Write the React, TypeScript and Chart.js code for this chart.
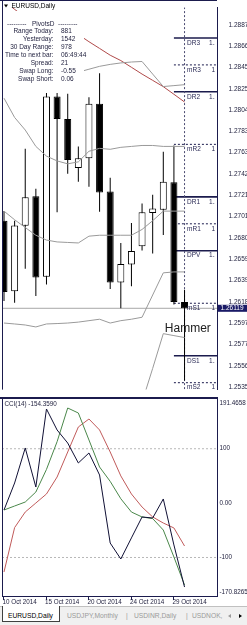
import React, { useEffect, useRef } from 'react';
import { Chart, registerables } from 'chart.js';

Chart.register(...registerables);

const FONT = '"Liberation Sans", Arial, sans-serif';
const NAVY = '#1b1b4d';
const TEXT = '#1e1e3c';

// ---- data ----
const dates = ['10 Oct 2014', '12 Oct 2014', '13 Oct 2014', '14 Oct 2014', '15 Oct 2014', '16 Oct 2014', '17 Oct 2014', '19 Oct 2014', '20 Oct 2014', '21 Oct 2014', '22 Oct 2014', '23 Oct 2014', '24 Oct 2014', '26 Oct 2014', '27 Oct 2014', '28 Oct 2014', '29 Oct 2014', '30 Oct 2014'];
const opens = [1.26969, 1.26285, 1.26919, 1.27206, 1.26426, 1.28174, 1.27955, 1.27481, 1.27575, 1.28105, 1.27253, 1.26369, 1.26544, 1.26722, 1.27044, 1.27075, 1.27341, 1.26180];
const highs = [1.27062, 1.26969, 1.27668, 1.27278, 1.28260, 1.28300, 1.28200, 1.27690, 1.28168, 1.28399, 1.27387, 1.26753, 1.26947, 1.27137, 1.27222, 1.27637, 1.27698, 1.26300];
const lows = [1.26191, 1.26173, 1.26503, 1.26238, 1.26351, 1.27050, 1.27425, 1.27346, 1.27299, 1.27056, 1.26307, 1.26119, 1.26332, 1.26681, 1.26650, 1.26831, 1.26156, 1.25419];
const closes = [1.26276, 1.26922, 1.27196, 1.26419, 1.28174, 1.27955, 1.27559, 1.27575, 1.28105, 1.27243, 1.26369, 1.26550, 1.26676, 1.27050, 1.27088, 1.27346, 1.26180, 1.26119];

const bandTop = [null, null, null, null, null, null, 1.28392, 1.28411, 1.28439, 1.28467, 1.28486, 1.28500, 1.28509, 1.28514, 1.28392, 1.28271, 1.28280, 1.28289];
const slowMa = [1.29104, 1.29020, 1.28945, 1.28898, 1.28861, 1.28828, 1.28800, 1.28776, 1.28706, 1.28641, 1.28575, 1.28523, 1.28458, 1.28392, 1.28331, 1.28270, 1.28196, 1.28121];
const bandUpper = [1.28158, 1.27971, 1.27849, 1.27690, 1.27596, 1.27549, 1.27521, 1.27540, 1.27643, 1.27671, 1.27662, 1.27681, 1.27690, 1.27699, 1.27699, 1.27690, 1.27690, 1.27690];
const bandMiddle = [1.27062, 1.26978, 1.26903, 1.26828, 1.26781, 1.26763, 1.26758, 1.26753, 1.26819, 1.26828, 1.26828, 1.26828, 1.26828, 1.26884, 1.26969, 1.27062, 1.27062, 1.27062];
const bandLower = [1.25976, 1.25967, 1.25957, 1.25938, 1.25967, 1.25971, 1.25976, 1.25985, 1.25999, 1.26013, 1.25976, 1.25999, 1.26013, 1.26032, 1.26248, 1.26463, 1.26472, 1.26472];
const bandBottom = [null, null, null, null, null, null, null, null, null, null, null, null, null, 1.25208, 1.25536, 1.25873, 1.25854, 1.25835];

const priceTicks = [1.28870, 1.28665, 1.28455, 1.28250, 1.28045, 1.27835, 1.27630, 1.27420, 1.27215, 1.27010, 1.26800, 1.26595, 1.26390, 1.26180, 1.25975, 1.25770, 1.25560, 1.25355];
const bidPrice = 1.26119;

const pivotNames = ['DR3', 'mR3', 'DR2', 'mR2', 'DR1', 'mR1', 'DPV', 'mS1', 'DS1', 'mS2'];
const pivotLevels = [1.28742, 1.28481, 1.28220, 1.27710, 1.27200, 1.26939, 1.26678, 1.26168, 1.25658, 1.25397];
const pivotDashed = [false, true, false, true, false, true, false, true, false, true];
const pivotFromBar = 16;

const infoLabels = ['Range Today:', 'Yesterday:', '30 Day Range:', 'Time to next bar:', 'Spread:', 'Swap Long:', 'Swap Short:'];
const infoValues = ['881', '1542', '978', '06:49:44', '21', '-0.55', '0.06'];

const patternText = 'Hammer';
const patternBar = 15;
const patternPrice = 1.2592;

const cciMain = [-12.7, 37.0, 101.4, 29.6, 173.1, 134.5, 110.5, 73.8, 92.2, 51.7, -73.4, -102.8, -64.0, -25.5, -27.4, 7.6, -77.0, -154.359];
const cciFast = [-12.7, -5.3, 2.0, 20.4, 62.0, 113.0, 174.9, 165.7, 116.1, 66.4, 40.0, 8.0, -16.4, -25.5, -28.5, -49.5, -99.1, -150.6];
const cciSlow = [-126.7, -45.0, -16.4, 0.2, 16.8, 48.0, 94.0, 140.0, 154.7, 134.5, 94.0, 50.0, 16.8, -7.2, -25.5, -36.6, -45.7, -78.9];
const cciLevels = [100, -100];
const cciTicks = [191.4658, 100, 0, -100, -170.8265];
const cciTickLabels = ['191.4658', '100', '0.00', '-100', '-170.8265'];
const cciTitle = 'CCI(14) -154.3590';

const dateTicks = [0, 4, 8, 12, 16];
const tabs = ['EURUSD,Daily', 'USDJPY,Monthly', 'USDINR,Daily', 'USDNOK,'];

const X_MIN = -0.188;
const X_MAX = 20.057;

const pts = (arr: (number | null)[]) => arr.map((v, i) => ({ x: i, y: v }));

const mainPlugin = {
  id: 'mainText',
  afterDatasetsDraw(chart: any) {
    const { ctx, chartArea: a } = chart;
    // opaque info panel that hides the chart behind it
    ctx.save();
    ctx.fillStyle = '#ffffff';
    ctx.fillRect(a.left, 11, 82, 82);
    ctx.restore();
  },
  afterDraw(chart: any) {
    const { ctx, chartArea: a, scales } = chart;
    const xs = scales.x;
    const ys = scales.y;
    ctx.save();
    ctx.strokeStyle = NAVY;
    ctx.lineWidth = 1;
    ctx.beginPath();
    ctx.moveTo(0, 0.5);
    ctx.lineTo(a.right, 0.5);
    ctx.moveTo(a.left + 0.5, 0);
    ctx.lineTo(a.left + 0.5, a.bottom);
    ctx.stroke();

    ctx.fillStyle = '#000';
    ctx.beginPath();
    ctx.moveTo(4, 4.5);
    ctx.lineTo(8, 4.5);
    ctx.lineTo(6, 7.5);
    ctx.closePath();
    ctx.fill();
    ctx.font = `6.5px ${FONT}`;
    ctx.textBaseline = 'middle';
    ctx.textAlign = 'left';
    ctx.fillText('EURUSD,Daily', 11.5, 6.3);

    ctx.fillStyle = TEXT;
    ctx.fillText('---------', 7, 24);
    ctx.fillText('PivotsD', 32, 24);
    ctx.fillText('---------', 58, 24);
    infoLabels.forEach((l, k) => {
      const yy = 31.3 + 8 * k;
      ctx.textAlign = 'right';
      ctx.fillText(l, 53.5, yy);
      ctx.textAlign = 'left';
      ctx.fillText(infoValues[k], 61, yy);
    });

    ctx.save();
    ctx.beginPath();
    ctx.rect(a.left, a.top, a.right - a.left - 2, a.bottom - a.top);
    ctx.clip();
    ctx.fillStyle = '#2a2a55';
    ctx.textAlign = 'left';
    const lx = xs.getPixelForValue(dates.length - 1) + 2.5;
    pivotNames.forEach((n, k) => {
      const yy = ys.getPixelForValue(pivotLevels[k]) + 5;
      ctx.fillText(n, lx, yy);
      ctx.fillText(pivotLevels[k].toFixed(5), lx + (n[0] === 'm' ? 24.5 : 22), yy);
    });
    ctx.fillStyle = '#202020';
    ctx.font = `12px ${FONT}`;
    ctx.fillText(patternText, xs.getPixelForValue(patternBar) + 1.5, ys.getPixelForValue(patternPrice));
    ctx.restore();

    const by = ys.getPixelForValue(bidPrice);
    ctx.fillStyle = '#1a1a66';
    ctx.fillRect(a.right + 1, by - 3.5, chart.width - a.right - 1, 7);
    ctx.fillStyle = '#fff';
    ctx.font = `6.5px ${FONT}`;
    ctx.textAlign = 'left';
    ctx.fillText(bidPrice.toFixed(5), a.right + 3.5, by);
    ctx.restore();
  },
};

const cciPlugin = {
  id: 'cciText',
  afterDraw(chart: any) {
    const { ctx, chartArea: a, scales } = chart;
    const ys = scales.y;
    ctx.save();
    ctx.strokeStyle = NAVY;
    ctx.lineWidth = 1;
    ctx.beginPath();
    ctx.moveTo(a.left + 0.5, 0);
    ctx.lineTo(a.left + 0.5, a.bottom);
    ctx.stroke();
    ctx.font = `6.3px ${FONT}`;
    ctx.textBaseline = 'middle';
    ctx.textAlign = 'left';
    ctx.fillStyle = TEXT;
    ctx.fillText(cciTitle, 4.5, 5.5);
    cciTicks.forEach((v, k) => {
      let yy = ys.getPixelForValue(v);
      yy = Math.min(Math.max(yy, a.top + 4), a.bottom - 4);
      ctx.fillText(cciTickLabels[k], a.right + 2.5, yy);
    });
    ctx.restore();
  },
};

export default function App() {
  const mainRef = useRef<HTMLCanvasElement>(null);
  const cciRef = useRef<HTMLCanvasElement>(null);

  useEffect(() => {
    const idx = dates.map((_, i) => i);
    const bodies = idx.map((i) => ({ x: i, y: [opens[i], closes[i]] }));
    const wicks = idx.map((i) => ({ x: i, y: [lows[i], highs[i]] }));
    const bodyColors = idx.map((i) => (closes[i] >= opens[i] ? '#ffffff' : '#000000'));

    const lineDs = (data: any[], color: string, order: number, extra: any = {}) => ({
      type: 'line',
      data,
      borderColor: color,
      borderWidth: 1,
      pointRadius: 0,
      tension: 0,
      order,
      ...extra,
    });

    const mainDatasets: any[] = [];
    pivotLevels.forEach((lvl, k) => {
      mainDatasets.push(
        lineDs([{ x: pivotFromBar, y: lvl }, { x: X_MAX, y: lvl }], NAVY, 9, {
          borderWidth: pivotDashed[k] ? 1 : 1.6,
          borderDash: pivotDashed[k] ? [2, 2] : [],
        })
      );
    });
    mainDatasets.push(
      lineDs([{ x: dates.length - 1, y: 2 }, { x: dates.length - 1, y: 0 }], '#4a4a70', 8, { borderDash: [2, 2] })
    );
    mainDatasets.push(lineDs([{ x: X_MIN, y: bidPrice }, { x: X_MAX, y: bidPrice }], '#a8a8a8', 7));
    mainDatasets.push({
      type: 'bar',
      data: wicks,
      backgroundColor: '#000',
      barThickness: 1,
      grouped: false,
      order: 4,
      inflateAmount: 0,
    });
    mainDatasets.push({
      type: 'bar',
      data: bodies,
      backgroundColor: bodyColors,
      borderColor: '#000',
      borderWidth: 1,
      borderSkipped: false,
      barThickness: 7,
      grouped: false,
      order: 3,
      inflateAmount: 0,
    });
    mainDatasets.push(lineDs(pts(bandTop), '#9a9a9a', 1));
    mainDatasets.push(lineDs(pts(slowMa), '#b04a4a', 1));
    mainDatasets.push(lineDs(pts(bandUpper), '#9a9a9a', 1));
    mainDatasets.push(lineDs(pts(bandMiddle), '#9a9a9a', 1));
    mainDatasets.push(lineDs(pts(bandLower), '#9a9a9a', 1));
    mainDatasets.push(lineDs(pts(bandBottom), '#9a9a9a', 1));

    const main = new Chart(mainRef.current!, {
      type: 'line',
      data: { datasets: mainDatasets },
      options: {
        animation: false,
        responsive: false,
        events: [],
        layout: { padding: { left: 2, top: 1, right: 0, bottom: 0 } },
        plugins: { legend: { display: false }, tooltip: { enabled: false } },
        scales: {
          x: {
            type: 'linear',
            display: false,
            offset: false,
            bounds: 'data',
            grid: { offset: false },
            min: X_MIN,
            max: X_MAX,
          },
          y: {
            type: 'linear',
            position: 'right',
            min: 1.2533,
            max: 1.29039,
            afterFit: (s: any) => {
              s.width = 30;
            },
            afterBuildTicks: (s: any) => {
              s.ticks = priceTicks.map((v) => ({ value: v }));
            },
            ticks: {
              autoSkip: false,
              padding: 3.5,
              color: TEXT,
              font: { family: FONT, size: 6.5 },
              callback: (v: any) => Number(v).toFixed(5),
            },
            grid: { display: false },
            border: { display: true, color: NAVY, width: 1 },
          },
        },
      } as any,
      plugins: [mainPlugin],
    } as any);

    const cciDatasets: any[] = [];
    cciLevels.forEach((lv) => {
      cciDatasets.push(lineDs([{ x: X_MIN, y: lv }, { x: X_MAX, y: lv }], '#b8b8b8', 9, { borderDash: [2, 2] }));
    });
    cciDatasets.push(lineDs(pts(cciSlow), '#c05a5a', 3));
    cciDatasets.push(lineDs(pts(cciFast), '#4a874a', 2));
    cciDatasets.push(lineDs(pts(cciMain), '#101035', 1));

    const cci = new Chart(cciRef.current!, {
      type: 'line',
      data: { datasets: cciDatasets },
      options: {
        animation: false,
        responsive: false,
        events: [],
        layout: { padding: { left: 2, top: 0, right: 0, bottom: 0 } },
        plugins: { legend: { display: false }, tooltip: { enabled: false } },
        scales: {
          x: {
            type: 'linear',
            position: 'bottom',
            min: X_MIN,
            max: X_MAX,
            afterFit: (s: any) => {
              s.height = 10;
            },
            afterBuildTicks: (s: any) => {
              s.ticks = dateTicks.map((v) => ({ value: v }));
            },
            ticks: {
              autoSkip: false,
              maxRotation: 0,
              align: 'start',
              padding: -1,
              labelOffset: -1.5,
              color: TEXT,
              font: { family: FONT, size: 6.3, lineHeight: 1 },
              callback: (v: any) => dates[Math.round(Number(v))],
            },
            grid: { display: true, drawOnChartArea: false, drawTicks: true, tickLength: 4, color: NAVY },
            border: { display: true, color: NAVY, width: 1 },
          },
          y: {
            type: 'linear',
            position: 'right',
            min: -170.8265,
            max: 191.4658,
            afterFit: (s: any) => {
              s.width = 30;
            },
            ticks: { display: false },
            grid: { display: false },
            border: { display: true, color: NAVY, width: 1 },
          },
        },
      } as any,
      plugins: [cciPlugin],
    } as any);

    return () => {
      main.destroy();
      cci.destroy();
    };
  }, []);

  const tabText: React.CSSProperties = {
    position: 'absolute',
    top: 612,
    fontSize: '6.7px',
    lineHeight: '8px',
    whiteSpace: 'nowrap',
    color: '#9a9a9a',
  };

  return (
    <div
      style={{
        position: 'fixed',
        left: 0,
        top: 0,
        width: 247,
        height: 625,
        background: '#fff',
        overflow: 'hidden',
        fontFamily: FONT,
      }}
    >
      <canvas ref={mainRef} width={247} height={397} style={{ position: 'absolute', left: 0, top: 0 }} />
      <div style={{ position: 'absolute', left: 0, top: 397, width: 218, height: 2, background: NAVY }} />
      <canvas ref={cciRef} width={247} height={207} style={{ position: 'absolute', left: 0, top: 399 }} />
      <div
        style={{
          position: 'absolute',
          left: 0,
          top: 606,
          width: 247,
          height: 19,
          background: '#f0f0f0',
          borderTop: '1px solid #c0c0c0',
          boxSizing: 'border-box',
        }}
      />
      <div
        style={{
          position: 'absolute',
          left: 2,
          top: 606,
          width: 58,
          height: 16,
          background: '#fff',
          borderLeft: '1px solid #404040',
          borderRight: '1px solid #404040',
          borderBottom: '1px solid #404040',
          boxSizing: 'border-box',
        }}
      />
      <div style={{ ...tabText, left: 8, color: '#000' }}>{tabs[0]}</div>
      <div style={{ ...tabText, left: 67 }}>{tabs[1]}</div>
      <div style={{ ...tabText, left: 126 }}>|</div>
      <div style={{ ...tabText, left: 134 }}>{tabs[2]}</div>
      <div style={{ ...tabText, left: 186 }}>|</div>
      <div style={{ ...tabText, left: 192 }}>{tabs[3]}</div>
      <div
        style={{
          position: 'absolute',
          left: 228,
          top: 613.5,
          width: 0,
          height: 0,
          borderTop: '2.5px solid transparent',
          borderBottom: '2.5px solid transparent',
          borderRight: '3px solid #9a9a9a',
        }}
      />
      <div
        style={{
          position: 'absolute',
          left: 239,
          top: 613.5,
          width: 0,
          height: 0,
          borderTop: '2.5px solid transparent',
          borderBottom: '2.5px solid transparent',
          borderLeft: '3px solid #000',
        }}
      />
    </div>
  );
}
